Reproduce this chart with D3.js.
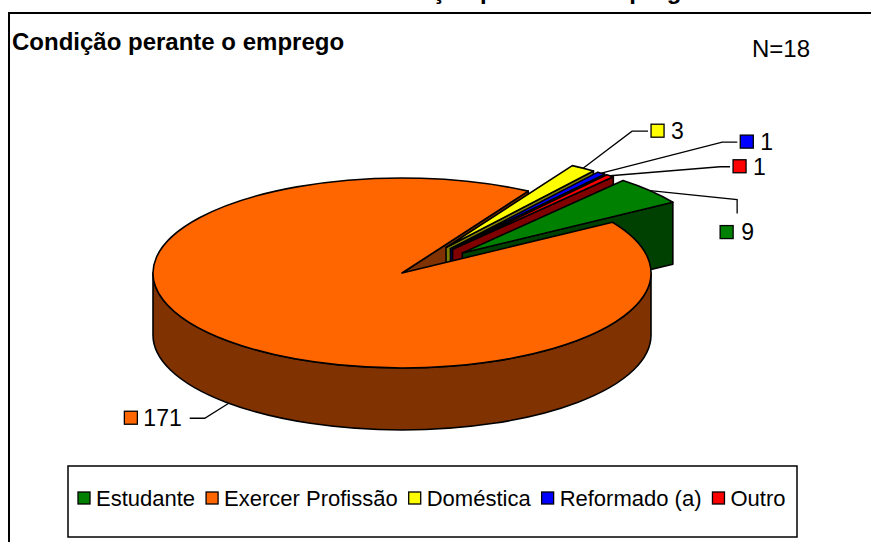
<!DOCTYPE html>
<html>
<head>
<meta charset="utf-8">
<script src="https://cdn.jsdelivr.net/npm/d3@7"></script>
<style>
body { margin: 0; background: #fff; }
svg { display: block; font-family: "Liberation Sans", Arial, sans-serif; }
</style>
</head>
<body>
<svg id="chart" width="871" height="542"></svg>
<script>
/**
 * Data, in legend order
 */
var categories = ["Estudante", "Exercer Profissão", "Doméstica", "Reformado (a)", "Outro"];
var values = [9, 171, 3, 1, 1];
var exploded = [true, false, true, true, true];
var topColors = ["#008000", "#FF6600", "#FFFF00", "#0000FF", "#FF0000"];
var sideColors = ["#004000", "#803300", "#808000", "#000080", "#800000"];
var chartTitle = "Condição perante o emprego";
var sampleNote = "N=18";

// where each value label sits, relative to the point where its leader line touches the slice
var labelLayout = [
    {elbow: [87, 9], end: [87, 23], side: "below"},
    {elbow: [-24, 15], end: [-39, 15], side: "left"},
    {elbow: [49, -37], end: [65, -37], side: "right"},
    {elbow: [121, -31], end: [136, -31], side: "right"},
    {elbow: [110, -9], end: [120, -9], side: "right"}
];

var svg = d3.select("#chart");

// frame, its right and bottom edges fall outside the picture
svg.append("rect")
    .attr("x", 9).attr("y", 13)
    .attr("width", 900).attr("height", 600)
    .attr("fill", "none").attr("stroke", "#000").attr("stroke-width", 2);

// chart title, mostly cut off at the top
svg.append("text")
    .attr("x", 530).attr("y", -1)
    .attr("text-anchor", "middle")
    .style("font-size", "24px").style("font-weight", "bold")
    .text(chartTitle);

svg.append("text")
    .attr("x", 12).attr("y", 50)
    .style("font-size", "24px").style("font-weight", "bold")
    .text(chartTitle);

svg.append("text")
    .attr("x", 752).attr("y", 57)
    .style("font-size", "24px")
    .text(sampleNote);

/**
 * 3D pie
 */
var cx = 402, cy = 273, rx = 249, ry = 95, depth = 62, explodeDist = 80;
var startDeg = 40.2;
var a0 = startDeg * Math.PI / 180;

var xScale = d3.scaleLinear().domain([-rx, rx]).range([cx - rx, cx + rx]);
var yScale = d3.scaleLinear().domain([-rx, rx]).range([cy + ry, cy - ry]);

var data = categories.map(function(c, i){
    return {name: c, value: values[i], top: topColors[i], side: sideColors[i],
            exploded: exploded[i], layout: labelLayout[i]};
});

var pie = d3.pie()
    .sort(null)
    .value(function(d){ return d.value; })
    .startAngle(a0)
    .endAngle(a0 + 2 * Math.PI);

var arcs = pie(data);

arcs.forEach(function(s){
    var m = (s.startAngle + s.endAngle) / 2;
    var e = s.data.exploded ? explodeDist : 0;
    s.mid = m;
    s.ox = e * Math.sin(m);
    s.oy = e * Math.cos(m);
});

// point of slice s at angle a, radius r (plane units), z = 0 top / depth bottom
function pt(s, a, r, z) {
    var X = s.ox + r * Math.sin(a), Y = s.oy + r * Math.cos(a);
    return [xScale(X), yScale(Y) + z];
}

function topPath(s) {
    var c = pt(s, 0, 0, 0),
        p0 = pt(s, s.startAngle, rx, 0),
        p1 = pt(s, s.endAngle, rx, 0),
        large = (s.endAngle - s.startAngle) > Math.PI ? 1 : 0;
    return "M" + c + "L" + p0 + "A" + rx + "," + ry + " 0 " + large + " 1 " + p1 + "Z";
}

function sidePath(s, b0, b1) {
    var t0 = pt(s, b0, rx, 0), t1 = pt(s, b1, rx, 0),
        d1 = pt(s, b1, rx, depth), d0 = pt(s, b0, rx, depth);
    return "M" + t0 + "A" + rx + "," + ry + " 0 0 1 " + t1 +
        "L" + d1 + "A" + rx + "," + ry + " 0 0 0 " + d0 + "Z";
}

function radialPath(s, a) {
    return "M" + pt(s, a, 0, 0) + "L" + pt(s, a, rx, 0) +
        "L" + pt(s, a, rx, depth) + "L" + pt(s, a, 0, depth) + "Z";
}

// parts of an arc that face the viewer
function frontRanges(b0, b1) {
    var out = [];
    for (var k = -1; k <= 2; k++) {
        var lo = Math.PI / 2 + 2 * Math.PI * k, hi = 3 * Math.PI / 2 + 2 * Math.PI * k;
        var s = Math.max(b0, lo), e = Math.min(b1, hi);
        if (e > s) out.push([s, e]);
    }
    return out;
}

var faces = [];
arcs.forEach(function(s){
    if (Math.sin(s.endAngle) > 1e-6) {
        faces.push({s: s, d: radialPath(s, s.endAngle), first: !s.data.exploded,
                    key: s.oy + rx / 2 * Math.cos(s.endAngle)});
    }
    if (Math.sin(s.startAngle) < -1e-6) {
        faces.push({s: s, d: radialPath(s, s.startAngle), first: !s.data.exploded,
                    key: s.oy + rx / 2 * Math.cos(s.startAngle)});
    }
    frontRanges(s.startAngle, s.endAngle).forEach(function(r){
        faces.push({s: s, d: sidePath(s, r[0], r[1]), first: false,
                    key: s.oy + rx * Math.cos((r[0] + r[1]) / 2)});
    });
});

faces.sort(function(a, b){
    return (b.first - a.first) || (b.key - a.key);
});

var pieG = svg.append("g");

pieG.selectAll("path.side")
    .data(faces)
    .enter()
    .append("path")
    .attr("class", "side")
    .attr("d", function(f){ return f.d; })
    .attr("fill", function(f){ return f.s.data.side; })
    .attr("stroke", "#000")
    .attr("stroke-width", 1.6)
    .attr("stroke-linejoin", "round");

pieG.selectAll("path.top")
    .data(arcs)
    .enter()
    .append("path")
    .attr("class", "top")
    .attr("d", topPath)
    .attr("fill", function(s){ return s.data.top; })
    .attr("stroke", "#000")
    .attr("stroke-width", 1.6)
    .attr("stroke-linejoin", "round");

/**
 * value labels with leader lines
 */
var labG = svg.append("g");
arcs.forEach(function(s){
    var L = s.data.layout;
    var anc = Math.cos(s.mid) < 0 ? pt(s, s.mid, rx, depth) : pt(s, s.mid, rx, 0);
    var el = [anc[0] + L.elbow[0], anc[1] + L.elbow[1]];
    var en = [anc[0] + L.end[0], anc[1] + L.end[1]];

    labG.append("path")
        .attr("d", d3.line()([anc, el, en]))
        .attr("fill", "none")
        .attr("stroke", "#000")
        .attr("stroke-width", 1.3);

    var g = labG.append("g");
    var txt = g.append("text")
        .style("font-size", "23px")
        .text(s.data.value);
    var tw = txt.node().getComputedTextLength();
    var bx, by, tx, ty;
    if (L.side === "right") {
        bx = en[0] + 3; by = en[1] - 7;
        tx = bx + 20; ty = en[1] + 8;
    } else if (L.side === "left") {
        tx = en[0] - 8 - tw; ty = en[1] + 8;
        bx = tx - 19; by = en[1] - 7;
    } else {
        bx = en[0] - 17; by = en[1] + 12;
        tx = bx + 21; ty = by + 14;
    }
    txt.attr("x", tx).attr("y", ty);
    g.append("rect")
        .attr("x", bx).attr("y", by)
        .attr("width", 13).attr("height", 13)
        .attr("fill", s.data.top)
        .attr("stroke", "#000")
        .attr("stroke-width", 1.3);
});

/**
 * legend
 */
var legend = svg.append("g");
legend.append("rect")
    .attr("x", 68).attr("y", 466)
    .attr("width", 729).attr("height", 71)
    .attr("fill", "none").attr("stroke", "#000").attr("stroke-width", 1.5);

var lx = 78;
data.forEach(function(d){
    legend.append("rect")
        .attr("x", lx).attr("y", 492)
        .attr("width", 12).attr("height", 12)
        .attr("fill", d.top).attr("stroke", "#000").attr("stroke-width", 1.3);
    var t = legend.append("text")
        .attr("x", lx + 18).attr("y", 506)
        .style("font-size", "22px")
        .text(d.name);
    lx += 18 + t.node().getComputedTextLength() + 11;
});
</script>
</body>
</html>
